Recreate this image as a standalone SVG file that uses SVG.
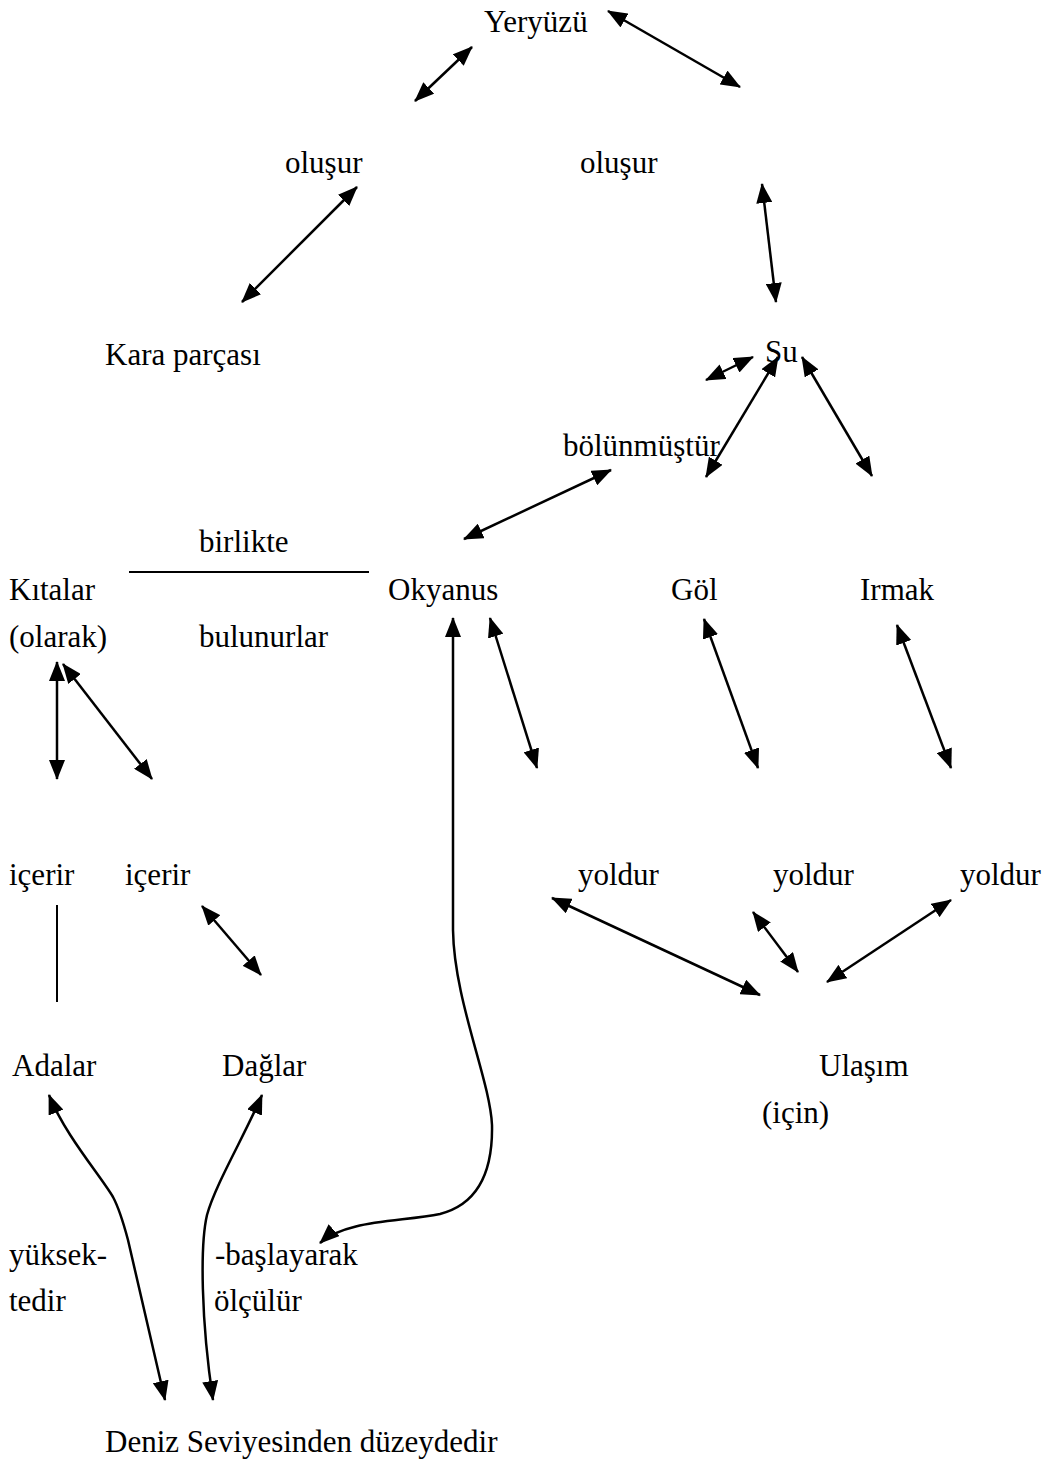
<svg xmlns="http://www.w3.org/2000/svg" width="1047" height="1466" viewBox="0 0 1047 1466">
<style>
text{font-family:"Liberation Serif","Times New Roman",serif;font-size:31px;fill:#000}
.c{fill:none;stroke:#000;stroke-width:2.5}
.a{marker-start:url(#ah);marker-end:url(#ah)}
.p{fill:none;stroke:#000;stroke-width:2}
</style>
<defs>
<marker id="ah" markerUnits="userSpaceOnUse" viewBox="0 0 20 16" markerWidth="20" markerHeight="16" refX="19" refY="8" orient="auto-start-reverse">
<path d="M0,0 L20,8 L0,16 z" fill="#000"/>
</marker>
</defs>
<rect width="1047" height="1466" fill="#fff"/>
<g id="nodes">
<g id="n-yeryuzu"><text x="484" y="32">Yeryüzü</text></g>
<g id="n-olusur1"><text x="285" y="173">oluşur</text></g>
<g id="n-olusur2"><text x="580" y="173">oluşur</text></g>
<g id="n-kara"><text x="105" y="365">Kara parçası</text></g>
<g id="n-su"><text x="765" y="362">Su</text></g>
<g id="n-bolunmustur"><text x="563" y="456">bölünmüştür</text></g>
<g id="n-birlikte"><text x="199" y="552">birlikte</text></g>
<g id="n-kitalar"><text x="9" y="600">Kıtalar</text><text x="9" y="647">(olarak)</text></g>
<g id="n-bulunurlar"><text x="199" y="647">bulunurlar</text></g>
<g id="n-okyanus"><text x="388" y="600">Okyanus</text></g>
<g id="n-gol"><text x="671" y="600">Göl</text></g>
<g id="n-irmak"><text x="860" y="600">Irmak</text></g>
<g id="n-icerir1"><text x="9" y="885">içerir</text></g>
<g id="n-icerir2"><text x="125" y="885">içerir</text></g>
<g id="n-yoldur1"><text x="578" y="885">yoldur</text></g>
<g id="n-yoldur2"><text x="773" y="885">yoldur</text></g>
<g id="n-yoldur3"><text x="960" y="885">yoldur</text></g>
<g id="n-adalar"><text x="12" y="1076">Adalar</text></g>
<g id="n-daglar"><text x="222" y="1076">Dağlar</text></g>
<g id="n-ulasim"><text x="819" y="1076">Ulaşım</text><text x="762" y="1123">(için)</text></g>
<g id="n-yuksektedir"><text x="9" y="1265">yüksek-</text><text x="9" y="1311">tedir</text></g>
<g id="n-baslayarak"><text x="215" y="1265">-başlayarak</text><text x="214" y="1311">ölçülür</text></g>
<g id="n-deniz"><text x="105" y="1452">Deniz Seviyesinden düzeydedir</text></g>
</g>
<g id="connectors">
<line class="c a" x1="415" y1="101" x2="472" y2="47"/>
<line class="c a" x1="608" y1="11" x2="740" y2="87"/>
<line class="c a" x1="357" y1="187" x2="242" y2="302"/>
<line class="c a" x1="762" y1="184" x2="776" y2="302"/>
<line class="c a" x1="706" y1="380" x2="753" y2="357"/>
<line class="c a" x1="778" y1="357" x2="706" y2="477"/>
<line class="c a" x1="802" y1="357" x2="872" y2="476"/>
<line class="c a" x1="611" y1="470" x2="464" y2="539"/>
<line class="p" x1="129" y1="572" x2="369" y2="572"/>
<line class="c a" x1="57" y1="662" x2="57" y2="779"/>
<line class="c a" x1="63" y1="664" x2="152" y2="779"/>
<line class="c a" x1="490" y1="618" x2="537" y2="768"/>
<path class="c a" d="M453,618 L453,930 C454,1000 490,1080 492,1125 C493,1175 475,1205 440,1214 C400,1222 345,1220 320,1243"/>
<line class="c a" x1="704" y1="619" x2="758" y2="768"/>
<line class="c a" x1="897" y1="625" x2="951" y2="768"/>
<line class="p" x1="57" y1="905" x2="57" y2="1002"/>
<line class="c a" x1="202" y1="906" x2="261" y2="975"/>
<line class="c a" x1="552" y1="898" x2="760" y2="995"/>
<line class="c a" x1="753" y1="912" x2="798" y2="972"/>
<line class="c a" x1="951" y1="900" x2="827" y2="982"/>
<path class="c a" d="M49,1095 C65,1135 100,1175 113,1197 C120,1210 124,1225 128,1240 L165,1400"/>
<path class="c a" d="M262,1095 C245,1135 215,1185 207,1215 C200,1245 201,1320 213,1400"/>
</g>
</svg>
